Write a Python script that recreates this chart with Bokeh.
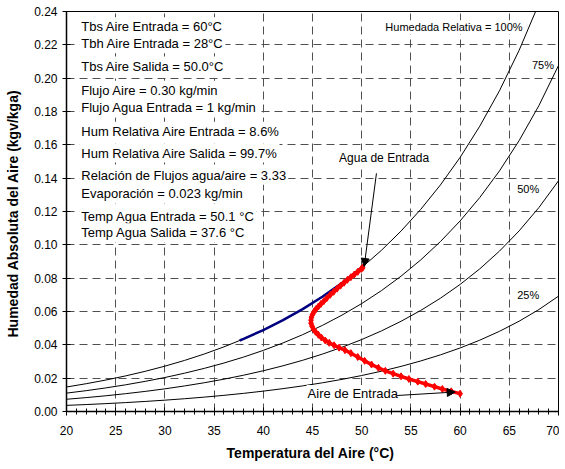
from bokeh.plotting import figure
from bokeh.models import (Label, Arrow, NormalHead, FixedTicker, Range1d,
                          NumeralTickFormatter)
from bokeh.embed import file_html
from bokeh.resources import INLINE

# ---- data ----
t_curve = [20, 22, 24, 26, 28, 30, 32, 34, 36, 38, 40, 42, 44, 46, 48, 50,
           52, 54, 56, 58, 60, 62, 64, 66, 68, 70]
w_rh100 = [0.01470, 0.01667, 0.01888, 0.02135, 0.02412, 0.02720, 0.03065, 0.03449,
           0.03878, 0.04356, 0.04889, 0.05483, 0.06146, 0.06885, 0.07710, 0.08634,
           0.09668, 0.10827, 0.12128, 0.13592, 0.15245, 0.17118, 0.19245, 0.21673,
           0.24459, 0.27680]
w_rh75 = [0.01103, 0.01250, 0.01416, 0.01601, 0.01809, 0.02040, 0.02299, 0.02587,
          0.02909, 0.03267, 0.03667, 0.04112, 0.04610, 0.05164, 0.05783, 0.06476,
          0.07251, 0.08120, 0.09096, 0.10194, 0.11434, 0.12839, 0.14434, 0.16255,
          0.18344, 0.20760]
w_rh50 = [0.00735, 0.00834, 0.00944, 0.01068, 0.01206, 0.01360, 0.01533, 0.01725,
          0.01939, 0.02178, 0.02445, 0.02742, 0.03073, 0.03443, 0.03855, 0.04317,
          0.04834, 0.05414, 0.06064, 0.06796, 0.07623, 0.08559, 0.09623, 0.10837,
          0.12230, 0.13840]
w_rh25 = [0.00368, 0.00417, 0.00472, 0.00534, 0.00603, 0.00680, 0.00766, 0.00862,
          0.00970, 0.01089, 0.01222, 0.01371, 0.01537, 0.01721, 0.01928, 0.02159,
          0.02417, 0.02707, 0.03032, 0.03398, 0.03811, 0.04280, 0.04811, 0.05418,
          0.06115, 0.06920]

# air path (red)
t_air = [60.0, 59.1, 58.2, 57.4, 56.5, 55.7, 54.8, 54.0, 53.2, 52.4, 51.7, 51.0,
         50.3, 49.6, 48.9, 48.3, 47.7, 47.2, 46.7, 46.3, 45.9, 45.6, 45.3, 45.1,
         44.95, 44.85, 44.85, 44.9, 45.0, 45.15, 45.35, 45.6, 45.85, 46.15, 46.45,
         46.8, 47.15, 47.5, 47.85, 48.2, 48.55, 48.9, 49.25, 49.6, 49.95, 50.1]
w_air = [0.0107, 0.0121, 0.0135, 0.0149, 0.0165, 0.0179, 0.0195, 0.0211, 0.0227,
         0.0244, 0.0262, 0.0282, 0.0304, 0.0327, 0.0350, 0.0368, 0.0383, 0.0397,
         0.0412, 0.0426, 0.0444, 0.0460, 0.0478, 0.0494, 0.0512, 0.0530, 0.0548,
         0.0566, 0.0582, 0.0598, 0.0614, 0.0630, 0.0645, 0.0662, 0.0680, 0.0700,
         0.0718, 0.0737, 0.0755, 0.0772, 0.0790, 0.0806, 0.0822, 0.0838, 0.0855,
         0.0862]

# water line (blue)
t_water = [37.6, 38, 40, 42, 44, 46, 48, 50.1]
w_water = [0.0426, 0.04356, 0.04889, 0.05483, 0.06146, 0.06885, 0.0771, 0.0868]

x_ticks = [20, 25, 30, 35, 40, 45, 50, 55, 60, 65, 70]
y_ticks = [0.00, 0.02, 0.04, 0.06, 0.08, 0.10, 0.12, 0.14, 0.16, 0.18, 0.20, 0.22, 0.24]

info_lines = [
    "Tbs Aire Entrada = 60°C",
    "Tbh Aire Entrada = 28°C",
    "Tbs Aire Salida = 50.0°C",
    "Flujo Aire = 0.30 kg/min",
    "Flujo Agua Entrada = 1 kg/min",
    "Hum Relativa Aire Entrada = 8.6%",
    "Hum Relativa Aire Salida = 99.7%",
    "Relación de Flujos agua/aire = 3.33",
    "Evaporación = 0.023 kg/min",
    "Temp Agua Entrada = 50.1 °C",
    "Temp Agua Salida = 37.6 °C",
]
info_y = [0.2308, 0.2207, 0.2073, 0.1927, 0.1823, 0.1681, 0.1551, 0.1417, 0.1307,
          0.1170, 0.1073]

FONT = "Liberation Sans"

p = figure(frame_width=492, frame_height=400,
           x_range=Range1d(20, 70), y_range=Range1d(0, 0.24),
           output_backend="svg", toolbar_location=None,
           min_border_left=66, min_border_right=1, min_border_top=11,
           min_border_bottom=55)
p.background_fill_color = "white"
p.border_fill_color = "white"
p.outline_line_color = "black"
p.outline_line_width = 1

# axes
p.xaxis.ticker = FixedTicker(ticks=x_ticks, minor_ticks=list(range(20, 71)))
p.yaxis.ticker = FixedTicker(ticks=y_ticks)
p.yaxis.formatter = NumeralTickFormatter(format="0.00")
for ax in (p.xaxis[0], p.yaxis[0]):
    ax.axis_line_color = "black"
    ax.axis_line_width = 1.5
    ax.major_tick_line_color = "black"
    ax.major_tick_in = 4
    ax.major_tick_out = 4
    ax.major_label_text_font = FONT
    ax.major_label_text_font_size = "12px"
    ax.major_label_text_color = "black"
    ax.axis_label_text_font = FONT
    ax.axis_label_text_font_size = "14px"
    ax.axis_label_text_font_style = "bold"
    ax.axis_label_text_color = "black"
p.xaxis.minor_tick_line_color = "black"
p.xaxis.minor_tick_in = 3
p.xaxis.minor_tick_out = 3
p.yaxis.minor_tick_line_color = None
p.xaxis.major_label_standoff = 10
p.yaxis.major_label_standoff = 5
p.xaxis.axis_label = "Temperatura del Aire  (°C)"
p.yaxis.axis_label = "Humedad Absoluta del Aire  (kgv/kga)"
p.xaxis.axis_label_standoff = 7
p.yaxis.axis_label_standoff = 10

# grid
p.xgrid.ticker = FixedTicker(ticks=x_ticks)
p.ygrid.ticker = FixedTicker(ticks=y_ticks)
for g in (p.xgrid[0], p.ygrid[0]):
    g.grid_line_color = "#505050"
    g.grid_line_width = 1
    g.grid_line_dash = "8 5"

# relative humidity curves
for w in (w_rh100, w_rh75, w_rh50, w_rh25):
    p.line(t_curve, w, line_color="black", line_width=1)

# water line
p.line(t_water, w_water, line_color="#000080", line_width=2.5)

# air path
p.line(t_air, w_air, line_color="#FF0000", line_width=3.5)
p.scatter(t_air, w_air, marker="diamond", size=7, fill_color="#FF0000",
          line_color="#FF0000")

# info text block
for txt, yy in zip(info_lines, info_y):
    p.add_layout(Label(x=21.3, y=yy, text=txt, text_font=FONT,
                       text_font_size="13px", text_baseline="middle",
                       text_color="black", background_fill_color="white",
                       padding=2))

def lab(x, y, txt, size):
    p.add_layout(Label(x=x, y=y, text=txt, text_font=FONT, text_font_size=size,
                       text_baseline="middle", text_color="black",
                       background_fill_color="white", padding=1))

lab(52.3, 0.2305, "Humedada Relativa = 100%", "11px")
lab(67.2, 0.2077, "75%", "11px")
lab(65.7, 0.1333, "50%", "11px")
lab(65.7, 0.0702, "25%", "11px")
lab(47.6, 0.1519, "Agua de Entrada", "12px")
lab(44.4, 0.0108, "Aire de Entrada", "13px")

p.add_layout(Arrow(end=NormalHead(size=8, fill_color="black", line_color="black"),
                   x_start=51.5, y_start=0.1429, x_end=50.25, y_end=0.0870,
                   line_color="black", line_width=1))
p.add_layout(Arrow(end=NormalHead(size=8, fill_color="black", line_color="black"),
                   x_start=53.6, y_start=0.0096, x_end=59.5, y_end=0.0117,
                   line_color="black", line_width=1))

open("out.html", "w").write(file_html(p, INLINE))
